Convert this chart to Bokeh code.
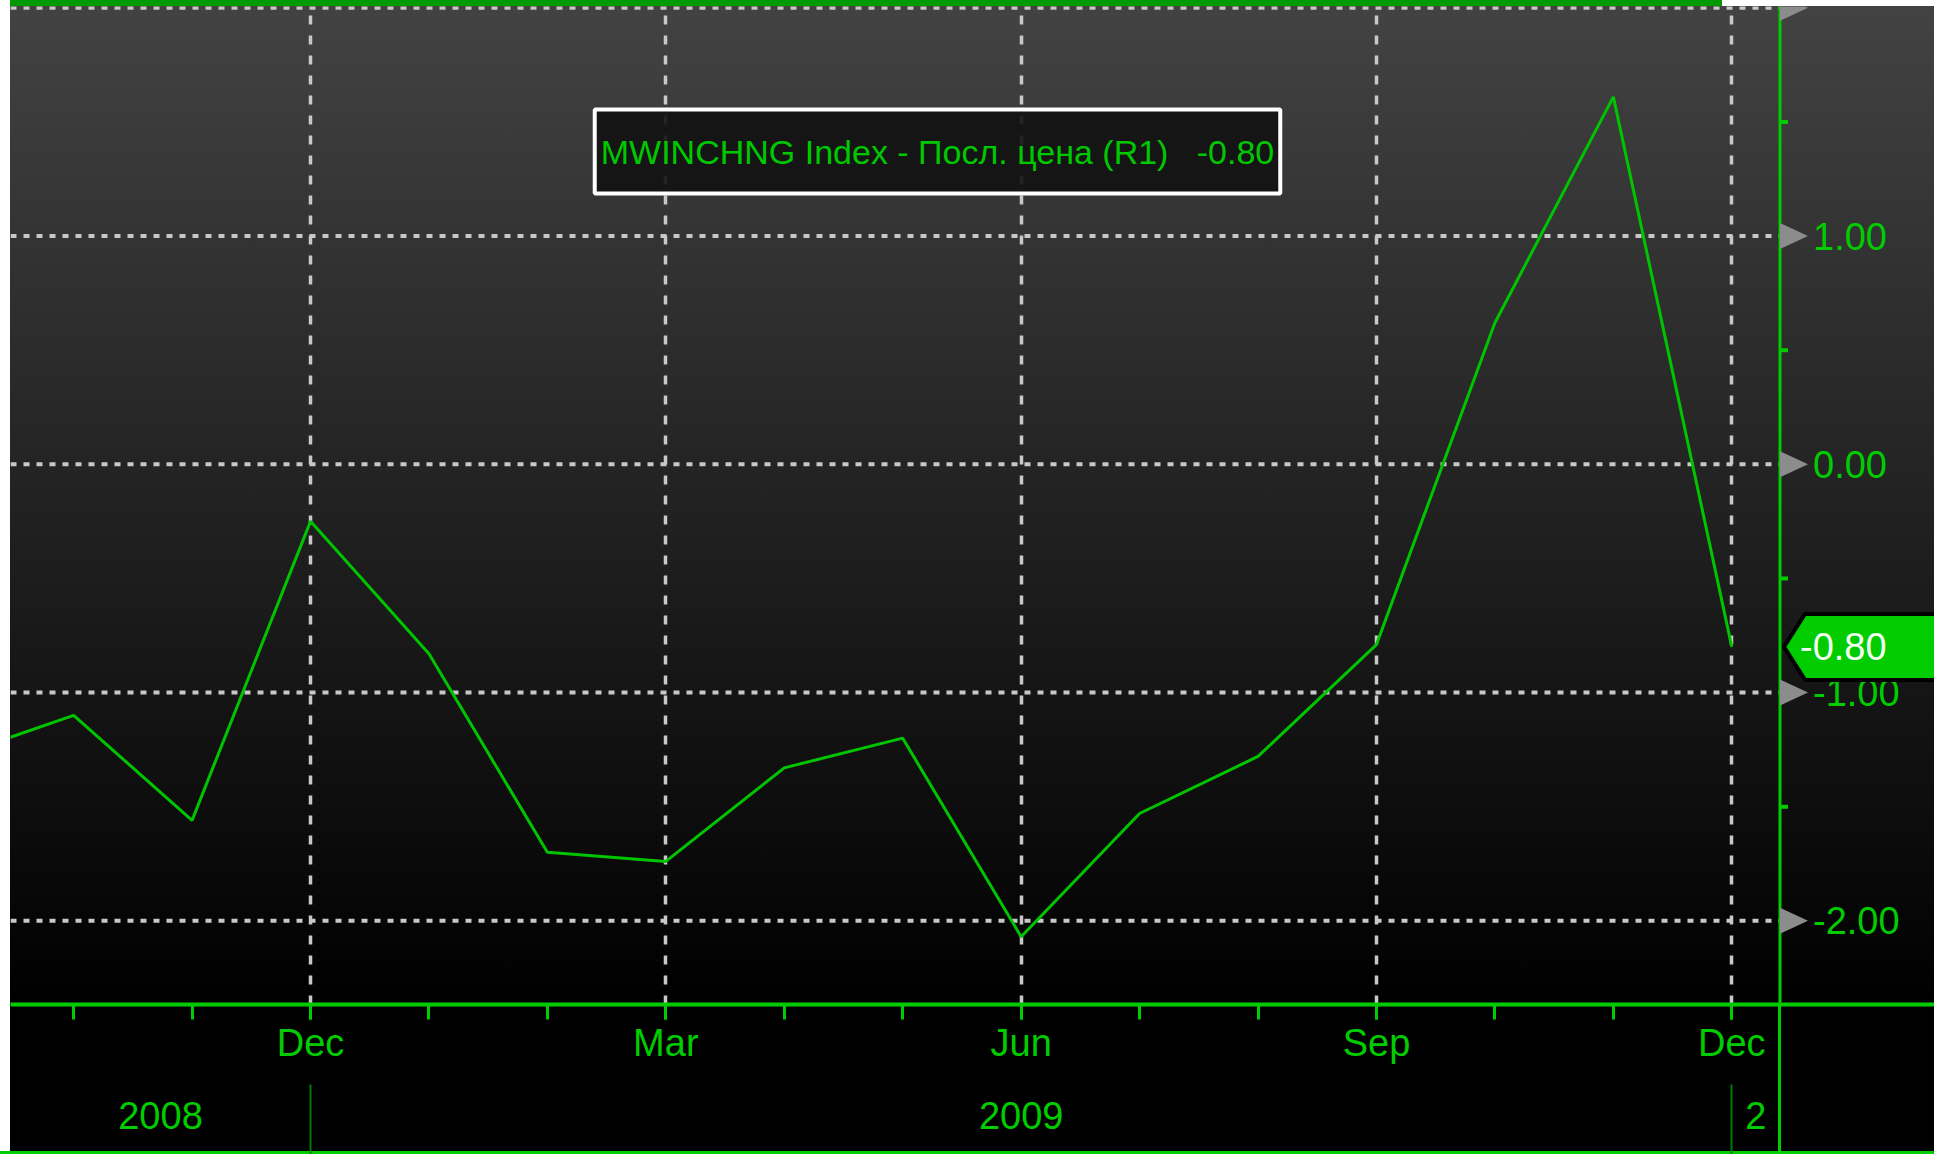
import numpy as np
from bokeh.plotting import figure
from bokeh.models import FixedTicker, LinearAxis, Label, Range1d
from bokeh.core.properties import value
from bokeh.embed import file_html
from bokeh.resources import INLINE

# ---------------- data ----------------
months = ["Sep 2008", "Oct 2008", "Nov 2008", "Dec 2008", "Jan 2009", "Feb 2009",
          "Mar 2009", "Apr 2009", "May 2009", "Jun 2009", "Jul 2009", "Aug 2009",
          "Sep 2009", "Oct 2009", "Nov 2009", "Dec 2009"]
values = [-1.28, -1.10, -1.56, -0.25, -0.83, -1.70, -1.74, -1.33, -1.20, -2.07,
          -1.53, -1.28, -0.79, 0.62, 1.61, -0.80]
series_name = "MWINCHNG Index - Посл. цена (R1)"
month_tick_idx = [3, 6, 9, 12, 15]
year_break_idx = [3, 15]
year_labels = ["2008", "2009", "2"]
y_grid_values = [-2, -1, 0, 1, 2]
y_label_values = [-2, -1, 0, 1]
y_minor_values = [-1.5, -0.5, 0.5, 1.5]

# ---------------- style / layout ----------------
GREEN = "#00cc00"
LINE_GREEN = "#00c400"
GRID = "#c8c8c8"
FONT = "Liberation Sans"
AXIS_FS = "38px"

W, H = 1934, 1154
BORDER_L, BORDER_T, BORDER_B = 10, 6, 150
frame_w = W - BORDER_L
frame_h = H - BORDER_T - BORDER_B

x = list(range(len(months)))
x_start = 0.467            # left edge of the visible time window
axis_x = 15.407            # right edge of the time window (value axis position)
px_x = 1 / 118.44          # data units per pixel (x)
x_end = x_start + frame_w * px_x
y_start, y_end = -2.367, 2.006
px_y = (y_end - y_start) / frame_h
axis_px = BORDER_L + (axis_x - x_start) / px_x
frame_bottom = BORDER_T + frame_h

bg_layers = [
    "linear-gradient(#ffffff,#ffffff) 0px 0px / %dpx 100%% no-repeat" % BORDER_L,
    "linear-gradient(#009a00,#009a00) %dpx 0px / %dpx %dpx no-repeat" % (BORDER_L, 1712, BORDER_T),
    "linear-gradient(#ffffff,#ffffff) %dpx 0px / %dpx %dpx no-repeat" % (BORDER_L + 1712, W, BORDER_T),
    "linear-gradient(%s,%s) %dpx %dpx / 3px %dpx no-repeat" % (GREEN, GREEN, int(axis_px) - 1, frame_bottom, BORDER_B),
    "linear-gradient(to bottom, #434343 0px, #000000 %dpx, #000000 100%%)" % frame_bottom,
]

p = figure(width=W, height=H, output_backend="svg", toolbar_location=None,
           x_range=Range1d(x_start, x_end), y_range=Range1d(y_start, y_end),
           y_axis_location=None, title=None,
           min_border_left=BORDER_L, min_border_right=0, min_border_top=BORDER_T,
           min_border_bottom=BORDER_B)
p.styles = {"background": ", ".join(bg_layers),
            "box-shadow": "inset 0 -3px 0 #00cc00"}
p.border_fill_color = None
p.background_fill_color = None
p.outline_line_color = None

# vertical grid (real grid, month ticks)
p.xgrid.ticker = FixedTicker(ticks=month_tick_idx)
p.xgrid.grid_line_color = GRID
p.xgrid.grid_line_width = 3.5
p.xgrid.grid_line_dash = "9 11"
p.ygrid.visible = False

# horizontal dotted grid, limited to the time window
p.segment(x0=[x_start] * len(y_grid_values), x1=[axis_x] * len(y_grid_values),
          y0=y_grid_values, y1=y_grid_values,
          line_color=GRID, line_width=4, line_dash="6 7")

# x axis (months)
xa = p.xaxis[0]
xa.ticker = FixedTicker(ticks=month_tick_idx, minor_ticks=x[1:])
xa.major_label_overrides = {i: months[i].split()[0] for i in month_tick_idx}
xa.axis_line_color = GREEN
xa.axis_line_width = 4
xa.major_tick_line_color = GREEN
xa.minor_tick_line_color = GREEN
xa.major_tick_line_width = 3
xa.minor_tick_line_width = 3
xa.major_tick_out = 15
xa.major_tick_in = 0
xa.minor_tick_out = 15
xa.minor_tick_in = 0
xa.major_label_standoff = 2
xa.major_label_text_color = GREEN
xa.major_label_text_font = FONT
xa.major_label_text_font_size = AXIS_FS

# year axis (labels centred between year separators)
bounds = [x_start] + year_break_idx + [axis_x]
year_centers = [(bounds[i] + bounds[i + 1]) / 2 for i in range(len(year_labels))]
ya2 = LinearAxis(ticker=FixedTicker(ticks=year_centers, minor_ticks=year_break_idx))
ya2.major_label_overrides = {c: t for c, t in zip(year_centers, year_labels)}
ya2.axis_line_color = None
ya2.major_tick_line_color = None
ya2.major_tick_out = 0
ya2.major_tick_in = 0
ya2.minor_tick_line_color = "#007a00"
ya2.minor_tick_line_width = 2
ya2.minor_tick_out = 18
ya2.minor_tick_in = -100
ya2.major_label_standoff = 17
ya2.major_label_text_color = GREEN
ya2.major_label_text_font = FONT
ya2.major_label_text_font_size = AXIS_FS
p.add_layout(ya2, "below")

# series line
p.line(x, values, line_color=LINE_GREEN, line_width=3)

# value axis (right side of the time window)
p.segment(x0=[axis_x], x1=[axis_x], y0=[y_start], y1=[y_end], line_color=GREEN, line_width=3)
p.segment(x0=[axis_x] * len(y_minor_values), x1=[axis_x + 8 * px_x] * len(y_minor_values),
          y0=y_minor_values, y1=y_minor_values, line_color=GREEN, line_width=4)
p.patches(xs=[[axis_x, axis_x + 28 * px_x, axis_x] for v in y_grid_values],
          ys=[[v + 13 * px_y, v, v - 13 * px_y] for v in y_grid_values],
          fill_color="#8c8c8c", line_color=None)
p.text(x=[axis_x + 33 * px_x] * len(y_label_values), y=y_label_values,
       text=[f"{v:.2f}" for v in y_label_values],
       text_align="left", text_baseline="middle", text_color=GREEN,
       text_font=value(FONT), text_font_size=AXIS_FS)

# last value tag
last = values[-1]
tag_txt = f"{last:.2f}"
hh = 33 * px_y
p.patch(x=[axis_x + 4 * px_x, axis_x + 25 * px_x, x_end + 1, x_end + 1, axis_x + 25 * px_x],
        y=[last, last + hh, last + hh, last - hh, last - hh],
        fill_color=GREEN, line_color="black", line_width=4)
p.text(x=[axis_x + 20 * px_x], y=[last], text=[tag_txt], text_align="left",
       text_baseline="middle", text_color="#f4fff4", text_font=value(FONT),
       text_font_size=AXIS_FS)

# legend box
p.add_layout(Label(x=927, y=853, x_units="screen", y_units="screen",
                   text=f"{series_name}\u00a0\u00a0\u00a0{tag_txt}",
                   text_align="center", text_baseline="middle",
                   text_color="#00c800", text_font=FONT, text_font_size="34px",
                   background_fill_color="#121212", background_fill_alpha=0.9,
                   border_line_color="white", border_line_width=4,
                   padding=dict(left=6, right=6, top=23, bottom=23)))

open("out.html", "w").write(file_html(p, INLINE, title="MWINCHNG Index"))
